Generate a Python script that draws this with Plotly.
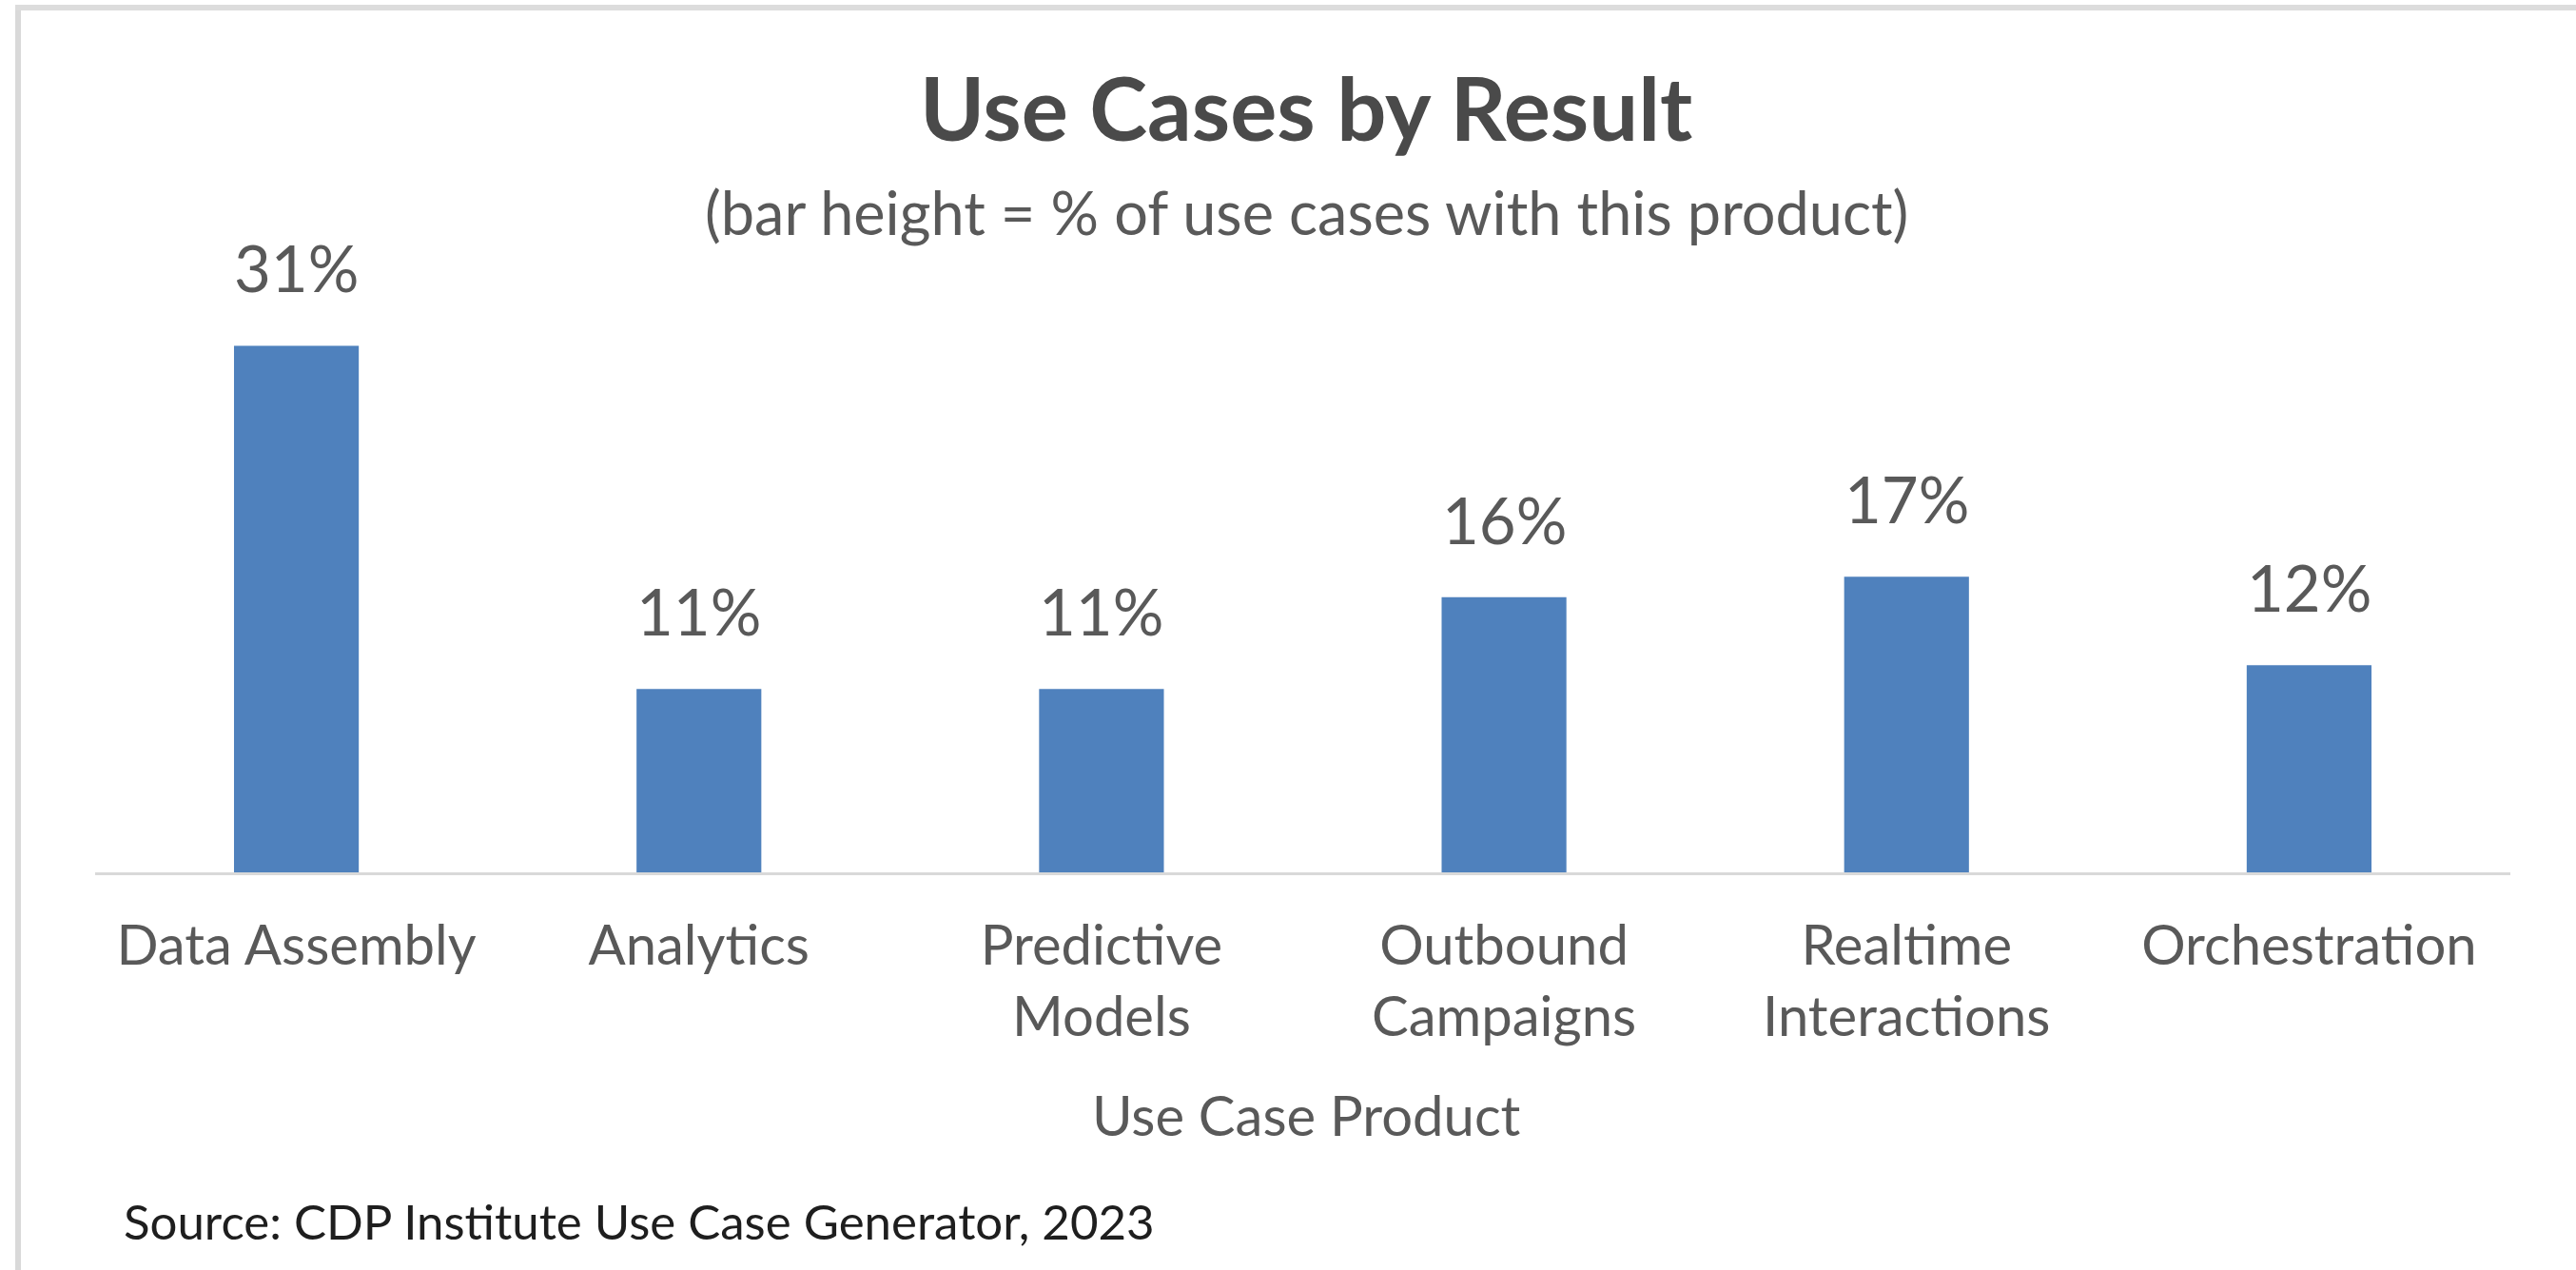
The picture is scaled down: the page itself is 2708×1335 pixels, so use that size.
import plotly.graph_objects as go

# ---- data ----
categories = ["Data Assembly", "Analytics", "Predictive<br>Models", "Outbound<br>Campaigns",
              "Realtime<br>Interactions", "Orchestration"]
values = [31.0, 10.8, 10.8, 16.2, 17.4, 12.2]
title_text = "Use Cases by Result"
subtitle_text = "(bar height = % of use cases with this product)"
x_title = "Use Case Product"
source_text = "Source: CDP Institute Use Case Generator, 2023"

W, H = 2708, 1335
PL, PR = 100, 2639          # plot area left/right (px)
PT, PB = 292, 917           # plot area top/bottom (px)
YMAX = 35

def xp(px):
    return (px - PL) / (PR - PL)

def yp(py):
    return (PB - py) / (PB - PT)

FONT = "Lato"
GRAY = "#595959"
BAR = "#4F81BD"

fig = go.Figure()
fig.add_trace(go.Bar(
    x=categories, y=values, marker=dict(color=BAR, line=dict(width=0)),
    hoverinfo="x+y",
))

annotations = []
for c, v in zip(categories, values):
    annotations.append(dict(
        x=c, y=v, xref="x", yref="y", text=f"{v:.0f}%", showarrow=False,
        xanchor="center", yanchor="bottom", yshift=40,
        font=dict(family=FONT, size=67, color=GRAY),
    ))

annotations += [
    dict(x=xp(1373), y=yp(170), xref="paper", yref="paper", text=f"<b>{title_text}</b>",
         showarrow=False, xanchor="center", yanchor="bottom",
         font=dict(family=FONT, size=92, color="#4a4a4a")),
    dict(x=xp(1373), y=yp(262), xref="paper", yref="paper", text=subtitle_text,
         showarrow=False, xanchor="center", yanchor="bottom",
         font=dict(family=FONT, size=63, color=GRAY)),
    dict(x=xp(1373), y=yp(1208), xref="paper", yref="paper", text=x_title,
         showarrow=False, xanchor="center", yanchor="bottom",
         font=dict(family=FONT, size=58, color=GRAY)),
    dict(x=xp(128), y=yp(1316), xref="paper", yref="paper", text=source_text,
         showarrow=False, xanchor="left", yanchor="bottom",
         font=dict(family=FONT, size=51, color="#1e1e1e")),
]

shapes = [
    dict(type="line", xref="paper", yref="paper", x0=xp(19), x1=xp(19), y0=yp(5), y1=yp(H),
         line=dict(color="#d9d9d9", width=6)),
    dict(type="line", xref="paper", yref="paper", x0=xp(16), x1=xp(W), y0=yp(8), y1=yp(8),
         line=dict(color="#dcdcdc", width=6)),
]

fig.update_layout(
    width=W, height=H,
    margin=dict(l=PL, r=W - PR, t=PT, b=H - PB, pad=0),
    paper_bgcolor="white", plot_bgcolor="white",
    bargap=0.69,
    showlegend=False,
    annotations=annotations,
    shapes=shapes,
    font=dict(family=FONT, color=GRAY),
)
fig.update_xaxes(
    showline=True, linecolor="#d9d9d9", linewidth=3, ticks="", showgrid=False,
    tickfont=dict(family=FONT, size=58, color=GRAY), ticklabelstandoff=24,
    fixedrange=True,
)
fig.update_yaxes(
    range=[0, YMAX], visible=False, showgrid=False, zeroline=False, fixedrange=True,
)

fig.write_html("out.html")
